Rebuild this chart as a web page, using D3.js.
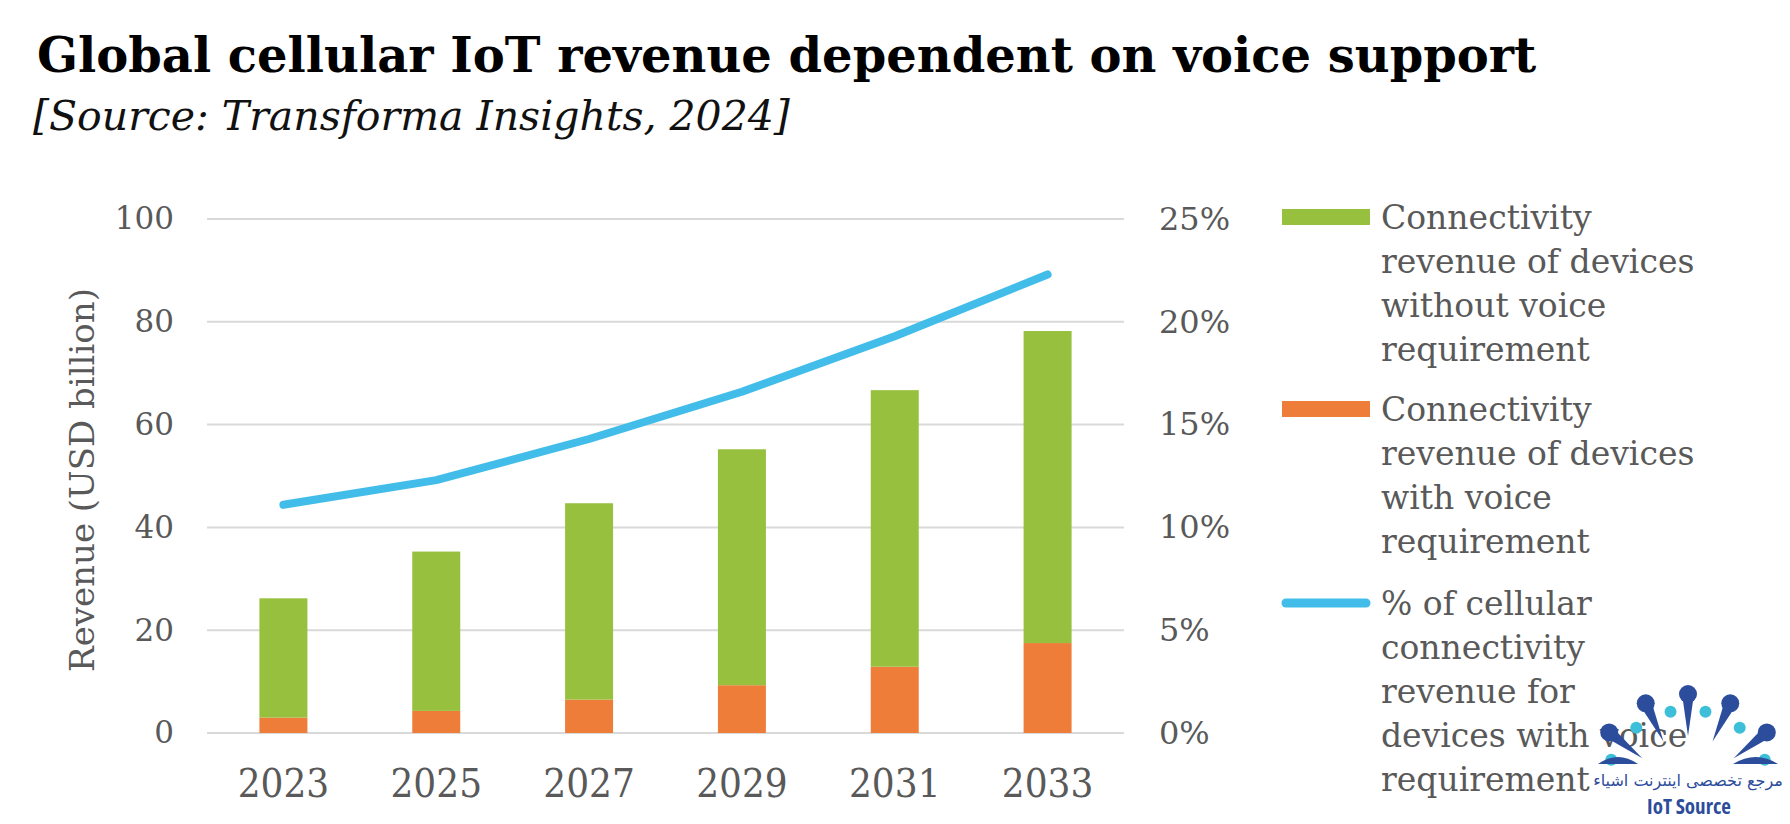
<!DOCTYPE html>
<html>
<head>
<meta charset="utf-8">
<script src="https://cdn.jsdelivr.net/npm/d3@7"></script>
<style>
  body { margin: 0; background: #fff; }
  svg text { fill: #595959; font-family: "DejaVu Serif", serif; }
</style>
</head>
<body>
<svg id="chart" width="1790" height="824"></svg>
<script>
// data
const years = ["2023", "2025", "2027", "2029", "2031", "2033"];
const withVoice = [3.0, 4.3, 6.5, 9.3, 12.9, 17.5];
const withoutVoice = [23.2, 31.0, 38.2, 45.9, 53.8, 60.7];
const voiceShare = [0.111, 0.123, 0.143, 0.166, 0.193, 0.223];

const leftTicks = [0, 20, 40, 60, 80, 100];
const rightTicks = [0, 0.05, 0.10, 0.15, 0.20, 0.25];

const legendLabels = [
  ["Connectivity", "revenue of devices", "without voice", "requirement"],
  ["Connectivity", "revenue of devices", "with voice", "requirement"],
  ["% of cellular", "connectivity", "revenue for", "devices with voice", "requirement"]
];

const colors = { green: "#96C03D", orange: "#EE7D3A", blue: "#42BDEA", grid: "#D9D9D9" };

const svg = d3.select("#chart");

// title + source
svg.append("text")
  .attr("x", 37).attr("y", 72)
  .style("font-size", "48px").style("font-weight", "bold")
  .style("fill", "#000")
  .text("Global cellular IoT revenue dependent on voice support");
svg.append("text")
  .attr("x", 33).attr("y", 130)
  .style("font-size", "41px").style("font-style", "italic")
  .style("fill", "#111")
  .text("[Source: Transforma Insights, 2024]");

// plot area
const plotLeft = 207, plotRight = 1124, plotTop = 219, plotBottom = 733;

const x = d3.scaleBand()
  .domain(years)
  .range([plotLeft, plotRight])
  .paddingInner(0.686)
  .paddingOuter(0.343);

const y = d3.scaleLinear().domain([0, 100]).range([plotBottom, plotTop]);
const y2 = d3.scaleLinear().domain([0, 0.25]).range([plotBottom, plotTop]);

// gridlines
svg.append("g")
  .selectAll("line")
  .data(leftTicks)
  .join("line")
  .attr("x1", plotLeft).attr("x2", plotRight)
  .attr("y1", d => y(d)).attr("y2", d => y(d))
  .attr("stroke", colors.grid).attr("stroke-width", 2);

// left axis
const yAxis = svg.append("g")
  .attr("transform", `translate(${plotLeft},0)`)
  .call(d3.axisLeft(y).tickValues(leftTicks).tickSize(0).tickPadding(33));
yAxis.select(".domain").remove();
yAxis.selectAll("text").style("font-size", "31px").attr("fill", null);

// right axis
const y2Axis = svg.append("g")
  .attr("transform", `translate(${plotRight},0)`)
  .call(d3.axisRight(y2).tickValues(rightTicks).tickSize(0).tickPadding(35).tickFormat(d3.format(".0%")));
y2Axis.select(".domain").remove();
y2Axis.selectAll("text").style("font-size", "32px").attr("fill", null);

// x axis
const xAxis = svg.append("g")
  .attr("transform", `translate(0,${plotBottom})`)
  .call(d3.axisBottom(x).tickSize(0).tickPadding(36));
xAxis.select(".domain").remove();
xAxis.selectAll("text")
  .style("font-size", "40px").style("font-stretch", "condensed").attr("fill", null);

// y axis title
svg.append("text")
  .attr("transform", "translate(94,480) rotate(-90)")
  .attr("text-anchor", "middle")
  .style("font-size", "34px")
  .text("Revenue (USD billion)");

// stacked bars
const rows = years.map((yr, i) => ({ year: yr, voice: withVoice[i], noVoice: withoutVoice[i] }));
const stack = d3.stack().keys(["voice", "noVoice"])(rows);
const barColor = { voice: colors.orange, noVoice: colors.green };

svg.append("g")
  .selectAll("g")
  .data(stack)
  .join("g")
  .attr("fill", d => barColor[d.key])
  .selectAll("rect")
  .data(d => d)
  .join("rect")
  .attr("x", d => x(d.data.year))
  .attr("y", d => y(d[1]))
  .attr("width", x.bandwidth())
  .attr("height", d => y(d[0]) - y(d[1]));

// share line (right axis)
svg.append("path")
  .datum(voiceShare)
  .attr("fill", "none")
  .attr("stroke", colors.blue)
  .attr("stroke-width", 8)
  .attr("stroke-linecap", "round")
  .attr("stroke-linejoin", "round")
  .attr("d", d3.line()
    .x((d, i) => x(years[i]) + x.bandwidth() / 2)
    .y(d => y2(d)));

// legend
const legend = svg.append("g").attr("transform", "translate(1282,0)");
const legendTops = [217, 409, 603];
const lineGap = 44;

legendLabels.forEach((lines, i) => {
  const g = legend.append("g").attr("transform", `translate(0,${legendTops[i]})`);
  if (i < 2) {
    g.append("rect")
      .attr("x", 0).attr("y", -8).attr("width", 88).attr("height", 16)
      .attr("fill", i === 0 ? colors.green : colors.orange);
  } else {
    g.append("line")
      .attr("x1", 4).attr("x2", 84).attr("y1", 0).attr("y2", 0)
      .attr("stroke", colors.blue).attr("stroke-width", 9).attr("stroke-linecap", "round");
  }
  g.append("text")
    .attr("x", 99)
    .style("font-size", "33px")
    .selectAll("tspan")
    .data(lines)
    .join("tspan")
    .attr("x", 99)
    .attr("y", (d, j) => j * lineGap + 12)
    .text(d => d);
});

// watermark logo (IoT Source)
const logo = svg.append("g").attr("transform", "translate(1688,794)");
const dark = "#2C4C9C", cyan = "#3DBFD9";
[-52, -25, 0, 25, 52].forEach(a => {
  const r = a * Math.PI / 180;
  const sx = Math.sin(r), cy = -Math.cos(r);
  // tapered drop: head at the outer end, thin tail inward
  const px = cy, py = -sx;
  const head = 100, tail = 58, w = 6;
  logo.append("path")
    .attr("d", `M${sx * tail},${cy * tail} L${sx * head + px * w},${cy * head + py * w} L${sx * head - px * w},${cy * head - py * w} Z`)
    .attr("fill", dark);
  logo.append("circle")
    .attr("cx", sx * head).attr("cy", cy * head).attr("r", 9).attr("fill", dark);
});
[-66, -38, -12, 12, 38, 66].forEach(a => {
  const r = a * Math.PI / 180;
  logo.append("circle")
    .attr("cx", Math.sin(r) * 84).attr("cy", -Math.cos(r) * 84)
    .attr("r", 6).attr("fill", cyan);
});
logo.append("path").attr("d", "M-90,-30 Q-70,-44 -50,-30 Z").attr("fill", dark);
logo.append("path").attr("d", "M45,-30 Q68,-44 90,-30 Z").attr("fill", dark);
svg.append("text")
  .attr("x", 1688).attr("y", 786)
  .attr("text-anchor", "middle")
  .style("font-family", "'DejaVu Sans', sans-serif")
  .style("font-size", "16px")
  .style("fill", dark)
  .text("مرجع تخصصی اینترنت اشیاء");
svg.append("text")
  .attr("x", 1689).attr("y", 814)
  .attr("text-anchor", "middle")
  .style("font-family", "'Open Sans', sans-serif")
  .style("font-size", "21px").style("font-weight", "bold")
  .style("font-stretch", "condensed")
  .style("fill", dark)
  .text("IoT Source");
</script>
</body>
</html>
